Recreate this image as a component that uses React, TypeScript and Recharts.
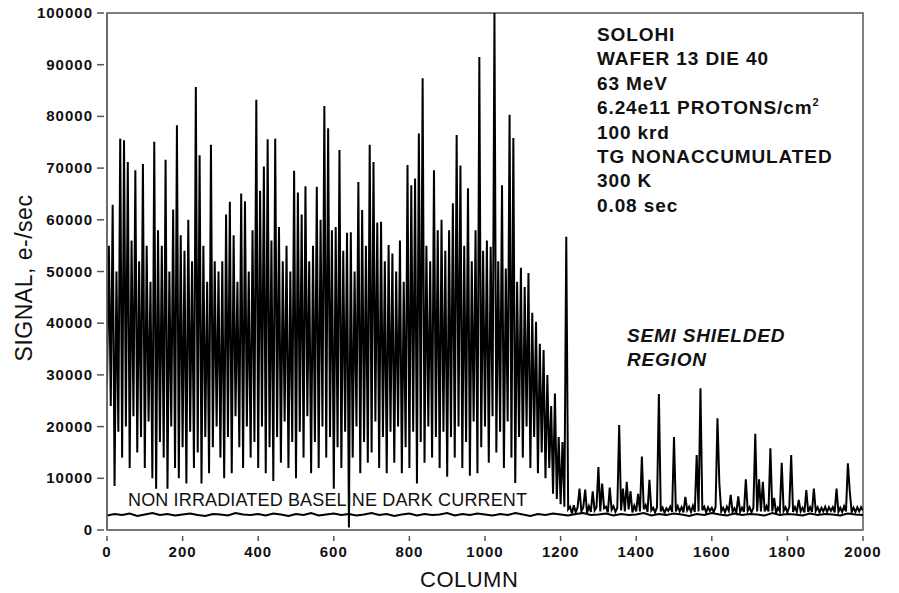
import React from "react"
import {
  ComposedChart,
  Line,
  XAxis,
  YAxis,
  ReferenceArea,
} from "recharts"

// column spacing of the sampled signal traces
const SIGNAL_STEP = 5
const SHIELDED_START = 1225
const BASELINE_STEP = 20

// irradiated region, columns 0..1220 (every 5th column)
const irradiatedSignal = [
  28000, 55000, 24000, 62900, 8500, 50000, 19000, 75700, 14000, 75400,
  20000, 71200, 12000, 56000, 22000, 69600, 15000, 52000, 18000, 70800,
  12000, 55000, 21000, 48000, 10000, 75100, 8000, 58000, 17000, 55000,
  14000, 71600, 8000, 50000, 20000, 62000, 12000, 78300, 10000, 57000,
  16000, 54000, 9000, 60000, 19000, 52000, 12000, 85700, 15000, 72500,
  9000, 55000, 18000, 48000, 11000, 74500, 16000, 52000, 20000, 50000,
  14000, 52000, 10000, 61000, 18000, 63500, 11000, 57000, 22000, 48000,
  16000, 65100, 12000, 63600, 20000, 50000, 14000, 58000, 17000, 83200,
  12000, 65600, 20000, 70300, 11000, 75600, 16000, 56000, 9500, 75700,
  18000, 58600, 13000, 52000, 21000, 55000, 12000, 50000, 17000, 69500,
  10000, 65300, 19000, 61000, 14000, 66500, 22000, 52000, 11000, 55000,
  17000, 66400, 12000, 60000, 20000, 82000, 14000, 77700, 18000, 58000,
  8000, 58600, 16000, 73500, 12000, 54000, 19000, 57500, 500, 57600,
  14000, 50000, 20000, 67300, 11000, 61900, 17000, 55000, 13000, 74500,
  15000, 71200, 21000, 59500, 12000, 59600, 18000, 52000, 11000, 55100,
  19000, 53500, 13000, 50000, 20000, 56000, 11000, 48000, 16000, 70600,
  12000, 66700, 19000, 68000, 9000, 76700, 17000, 87400, 13000, 55000,
  20000, 52000, 14000, 69600, 18000, 58000, 12000, 60000, 19000, 54000,
  10300, 58000, 18000, 63200, 14000, 76400, 20000, 70500, 12000, 55000,
  17000, 66100, 10500, 52000, 21000, 58000, 11000, 91500, 16000, 54000,
  20000, 56000, 13000, 54800, 22000, 100000, 15000, 52000, 19000, 66700,
  12000, 50600, 21000, 80300, 14000, 75800, 9100, 48000, 18000, 50700,
  14000, 47000, 20000, 49700, 12000, 42000, 18000, 40300, 11000, 36000,
  15000, 34800, 10000, 30000, 12000, 24000, 7000, 26400, 6000, 18000,
  5000, 17000, 4500, 56700, 4000,
]

// semi shielded region, columns 1225..2000
const shieldedSignal = [
  4500, 3200, 4800, 3400, 4400, 8000, 3600, 4400, 7800, 3300,
  4600, 3500, 7500, 3800, 4400, 12200, 3600, 9000, 4200, 4500,
  3400, 8200, 3900, 4600, 3500, 4300, 20300, 3800, 8000, 3600,
  9300, 4000, 7500, 3400, 4700, 3600, 7000, 3600, 14200, 4000,
  4800, 3500, 9700, 3800, 4300, 3400, 4400, 26300, 3600, 4300,
  3300, 4200, 3700, 4500, 3500, 18000, 3600, 4600, 3600, 4400,
  3400, 6400, 3800, 4500, 3500, 4700, 3500, 14500, 3600, 27400,
  3800, 4500, 3400, 4400, 3700, 4300, 3500, 4400, 21600, 9000,
  3600, 4300, 3400, 4500, 3700, 6800, 3500, 4200, 3400, 6500,
  3500, 4300, 3500, 9800, 3700, 4400, 3400, 4300, 18600, 3600,
  9800, 3600, 9300, 3600, 4600, 3600, 15800, 3600, 6200, 3300,
  4300, 3600, 13000, 3700, 4400, 3400, 4500, 14500, 3500, 4400,
  3500, 5800, 3600, 4300, 3400, 7700, 3500, 4400, 3500, 8000,
  3700, 4400, 3400, 4300, 3600, 4500, 3500, 4400, 3700, 4400,
  3400, 8000, 3500, 4300, 3500, 4600, 3600, 12900, 7500, 3500,
  4300, 3500, 4400, 3600, 4400, 3800,
]

// non irradiated baseline dark current, every 20th column
const baselineDarkCurrent = [
  2800, 3100, 2900, 3200, 2700, 3000, 3300, 2900, 3100, 2800,
  3000, 3200, 2900, 2700, 3100, 3000, 2800, 3300, 3000, 2900,
  3100, 2800, 3200, 3000, 2700, 3100, 2900, 3300, 2800, 3000,
  3200, 2900, 3100, 2800, 3000, 3300, 2900, 3100, 2700, 3000,
  3200, 2800, 3100, 2900, 3000, 3300, 2800, 3100, 2900, 3200,
  3000, 2800, 3100, 2900, 3300, 3000, 2700, 3100, 2900, 3200,
  3000, 2800, 3100, 3300, 2900, 3000, 3200, 2800, 3100, 2900,
  3000, 3300, 2800, 3100, 2900, 3200, 3000, 2700, 3100, 2900,
  3300, 3000, 2800, 3200, 2900, 3100, 3000, 2800, 3300, 2900,
  3100, 3000, 2800, 3200, 2900, 3100, 3000, 2800, 3200, 3000,
  2900,
]

const yTicks = [0, 10000, 20000, 30000, 40000, 50000, 60000, 70000, 80000, 90000, 100000]
const xTicks = [0, 200, 400, 600, 800, 1000, 1200, 1400, 1600, 1800, 2000]

const infoLines = [
  "SOLOHI",
  "WAFER 13 DIE 40",
  "63 MeV",
  "6.24e11 PROTONS/cm",
  "100 krd",
  "TG NONACCUMULATED",
  "300 K",
  "0.08 sec",
]

const signalData = irradiatedSignal
  .map((v, i) => ({ col: i * SIGNAL_STEP, signal: v }))
  .concat(shieldedSignal.map((v, i) => ({ col: SHIELDED_START + i * SIGNAL_STEP, signal: v })))

const baselineData = baselineDarkCurrent.map((v, i) => ({ col: i * BASELINE_STEP, dark: v }))

const FONT = '"Liberation Sans", Arial, sans-serif'

// eslint-disable-next-line @typescript-eslint/no-explicit-any
function YTick({ x, y, payload }: any) {
  return (
    <g>
      <line x1={x - 10} x2={x - 3} y1={y} y2={y} stroke="#555" strokeWidth={1.5} />
      <text
        x={x - 14}
        y={y + 5}
        textAnchor="end"
        fontFamily={FONT}
        fontWeight="bold"
        fontSize={15}
        letterSpacing={1}
        fill="#111"
      >
        {payload.value}
      </text>
    </g>
  )
}

// eslint-disable-next-line @typescript-eslint/no-explicit-any
function XTick({ x, y, payload }: any) {
  return (
    <g>
      <line x1={x} x2={x} y1={y + 6} y2={y + 11} stroke="#555" strokeWidth={1.5} />
      <text
        x={x}
        y={y + 27}
        textAnchor="middle"
        fontFamily={FONT}
        fontWeight="bold"
        fontSize={15}
        letterSpacing={1}
        fill="#111"
      >
        {payload.value}
      </text>
    </g>
  )
}

export default function App() {
  return (
    <div
      style={{
        position: "absolute",
        left: 0,
        top: 0,
        width: 899,
        height: 593,
        background: "#fff",
        fontFamily: FONT,
        color: "#111",
      }}
    >
      <ComposedChart
        width={899}
        height={593}
        margin={{ top: 13, right: 36, bottom: 33, left: 47 }}
      >
        <XAxis
          type="number"
          dataKey="col"
          domain={[0, 2000]}
          ticks={xTicks}
          allowDataOverflow
          height={30}
          tickSize={0}
          tickMargin={0}
          tickLine={false}
          tick={<XTick />}
          axisLine={{ stroke: "#777", strokeWidth: 2 }}
        />
        <YAxis
          type="number"
          domain={[0, 100000]}
          ticks={yTicks}
          allowDataOverflow
          width={60}
          tickSize={0}
          tickMargin={0}
          tickLine={false}
          tick={<YTick />}
          axisLine={{ stroke: "#666", strokeWidth: 1.5 }}
        />
        <ReferenceArea
          x1={0}
          x2={2000}
          y1={0}
          y2={100000}
          fill="none"
          stroke="#555"
          strokeWidth={1.5}
          ifOverflow="visible"
        />
        <Line
          data={baselineData}
          type="linear"
          dataKey="dark"
          stroke="#000"
          strokeWidth={2}
          dot={false}
          isAnimationActive={false}
        />
        <Line
          data={signalData}
          type="linear"
          dataKey="signal"
          stroke="#000"
          strokeWidth={2}
          dot={false}
          isAnimationActive={false}
        />
      </ComposedChart>

      <div
        style={{
          position: "absolute",
          left: 597,
          top: 23,
          fontSize: 19,
          fontWeight: "bold",
          letterSpacing: 0.9,
          lineHeight: "24.4px",
          whiteSpace: "nowrap",
        }}
      >
        {infoLines.map((t, i) => (
          <div key={i}>
            {t}
            {t.endsWith("cm") ? (
              <span style={{ fontSize: 11, position: "relative", top: -8, lineHeight: 0 }}>2</span>
            ) : null}
          </div>
        ))}
      </div>

      <div
        style={{
          position: "absolute",
          left: 627,
          top: 324,
          fontSize: 19,
          fontWeight: "bold",
          fontStyle: "italic",
          letterSpacing: 0.8,
          lineHeight: "24px",
          whiteSpace: "nowrap",
        }}
      >
        <div>SEMI SHIELDED</div>
        <div>REGION</div>
      </div>

      <div
        style={{
          position: "absolute",
          left: 128,
          top: 491,
          fontSize: 18,
          letterSpacing: 0.15,
          lineHeight: "18px",
          whiteSpace: "nowrap",
        }}
      >
        NON IRRADIATED BASELINE DARK CURRENT
      </div>

      <div
        style={{
          position: "absolute",
          left: 420,
          top: 569,
          fontSize: 22,
          letterSpacing: 0.5,
          lineHeight: "22px",
          whiteSpace: "nowrap",
        }}
      >
        COLUMN
      </div>

      <div
        style={{
          position: "absolute",
          left: 24,
          top: 278,
          fontSize: 23,
          letterSpacing: 0.5,
          lineHeight: "23px",
          whiteSpace: "nowrap",
          transform: "translate(-50%, -50%) rotate(-90deg)",
        }}
      >
        SIGNAL, e-/sec
      </div>
    </div>
  )
}
